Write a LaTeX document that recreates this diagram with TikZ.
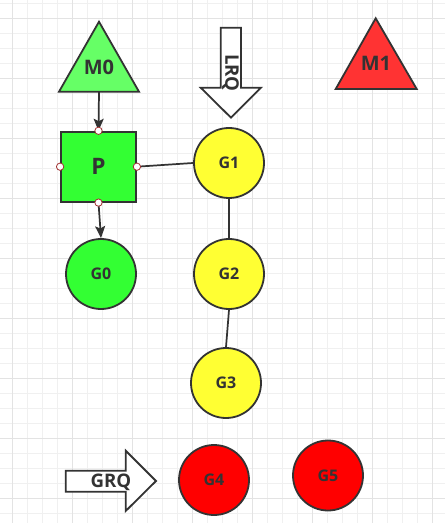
\documentclass[tikz,border=0pt]{standalone}
\usepackage{fontspec}
\setsansfont{Open Sans}
\usetikzlibrary{arrows.meta}
\definecolor{ink}{HTML}{333333}
\definecolor{gridminor}{HTML}{F0F0F0}
\definecolor{gridmajor}{HTML}{E3E3E3}
\definecolor{lgreen}{HTML}{66FF66}
\definecolor{pgreen}{HTML}{33FF33}
\definecolor{gyellow}{HTML}{FFFF33}
\definecolor{gred}{HTML}{FF0000}
\definecolor{mred}{HTML}{FF3333}
\definecolor{portred}{HTML}{A03030}
\tikzset{
  lbl/.style={text=ink,font=\sffamily\bfseries},
  gnode/.style={circle,draw=ink,line width=1.35pt,minimum size=52.5pt,inner sep=0pt,lbl,font=\sffamily\bfseries\fontsize{12pt}{13pt}\selectfont},
  shapeline/.style={draw=ink,line width=1.35pt,line join=miter},
  conn/.style={draw=ink,line width=1.3pt},
  arr/.style={conn,-{Stealth[length=9pt,width=7.5pt,inset=1.8pt]}},
  port/.style={circle,draw=portred,fill=white,line width=0.6pt,minimum size=5.5pt,inner sep=0pt},
  mlbl/.style={lbl,font=\sffamily\bfseries\fontsize{15pt}{16pt}\selectfont},
  qlbl/.style={lbl,font=\sffamily\bfseries\fontsize{14pt}{15pt}\selectfont}
}
\begin{document}
\begin{tikzpicture}[x=0.75pt,y=-0.75pt]
\useasboundingbox (0,0) rectangle (445,523);
\fill[white] (0,0) rectangle (445,523);
% grid
\foreach \i in {0,...,29} {
  \draw[gridminor,line width=0.75pt] ({12.7+15*\i},0) -- ({12.7+15*\i},523);
}
\foreach \j in {0,...,34} {
  \draw[gridminor,line width=0.75pt] (0,{3.3+15*\j}) -- (445,{3.3+15*\j});
}
\foreach \i in {0,...,7} {
  \draw[gridmajor,line width=0.75pt] ({12.7+60*\i},0) -- ({12.7+60*\i},523);
}
\foreach \j in {0,...,8} {
  \draw[gridmajor,line width=0.75pt] (0,{18.3+60*\j}) -- (445,{18.3+60*\j});
}
% M0 triangle
\path[shapeline,fill=lgreen] (99,21.7) -- (139,91.7) -- (59,91.7) -- cycle;
\node[mlbl] (M0) at (99,67) {M0};
\coordinate (M0base) at (99,91.7);
% M1 triangle
\path[shapeline,fill=mred] (375.7,18.3) -- (416.7,89) -- (335.7,89) -- cycle;
\node[mlbl] (M1) at (376,63) {M1};
% P
\node[rectangle,draw=ink,line width=1.35pt,fill=pgreen,minimum width=56.25pt,minimum height=52.5pt,inner sep=0pt,lbl,font=\sffamily\bfseries\fontsize{17pt}{18pt}\selectfont] (P) at (98.5,166.7) {P};
% G nodes
\node[gnode,fill=gyellow] (G1) at (229,163) {G1};
\node[gnode,fill=gyellow] (G2) at (229,274) {G2};
\node[gnode,fill=gyellow] (G3) at (226,383) {G3};
\node[gnode,fill=pgreen] (G0) at (101,274) {G0};
\node[gnode,fill=gred] (G4) at (214,480) {G4};
\node[gnode,fill=gred] (G5) at (328,475.5) {G5};
% connectors
\draw[arr] (M0base) -- (P.north);
\draw[arr] (P.south) -- (G0.north);
\draw[conn] (P.east) -- (G1.west);
\draw[conn] (G1.south) -- (G2.north);
\draw[conn] (G2.south) -- (G3.north);
% ports
\node[port] (pn) at (P.north) {};
\node[port] (ps) at (P.south) {};
\node[port] (pw) at (P.west) {};
\node[port] (pe) at (P.east) {};
% LRQ arrow
\path[shapeline,fill=white] (220.7,27.7) -- (241,27.7) -- (241,87.7) -- (261,87.7) -- (231,117.7) -- (200.7,87.7) -- (220.7,87.7) -- cycle;
\node[qlbl,rotate=-90] (LRQ) at (230.5,73) {LRQ};
% GRQ arrow
\path[shapeline,fill=white] (65.7,470.7) -- (125.7,470.7) -- (125.7,450.7) -- (156,481) -- (125.7,511) -- (125.7,491.7) -- (65.7,491.7) -- cycle;
\node[qlbl] (GRQ) at (111,482.5) {GRQ};
\end{tikzpicture}
\end{document}
